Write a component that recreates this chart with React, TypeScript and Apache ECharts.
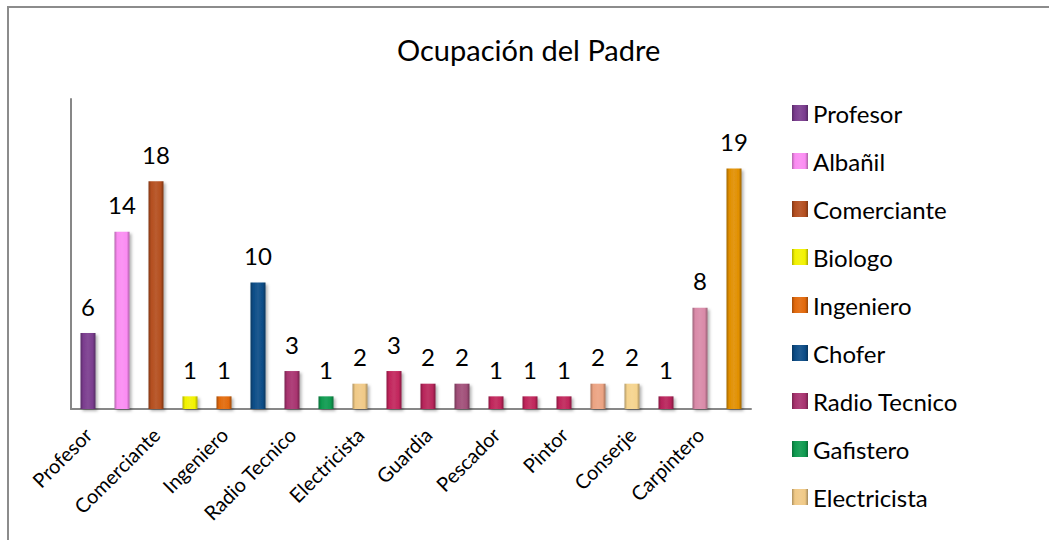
import React, { useEffect, useRef } from "react";
import * as echarts from "echarts";

const categories = [
  "Profesor", "Albañil", "Comerciante", "Biologo", "Ingeniero", "Chofer",
  "Radio Tecnico", "Gafistero", "Electricista", "Mecánico", "Guardia", "Agricultor",
  "Pescador", "Chef", "Pintor", "Policía", "Conserje", "Sastre", "Carpintero", "Otros",
];
const values = [6, 14, 18, 1, 1, 10, 3, 1, 2, 3, 2, 2, 1, 1, 1, 2, 2, 1, 8, 19];
const barColors = [
  "#7a3c8e", "#fb8cf2", "#b44e1f", "#f2f200", "#e2690c", "#0c4c86",
  "#a8336f", "#0e9a4f", "#f0c986", "#c2245c", "#b8255a", "#a04e78",
  "#c0245a", "#c0245a", "#c0245a", "#eba382", "#f5d38d", "#b8235a", "#d98aa8", "#e18f00",
];
const legendNames = categories.slice(0, 9);

function shade(hex: string, f: number): string {
  const n = parseInt(hex.slice(1), 16);
  let r = (n >> 16) & 255, g = (n >> 8) & 255, b = n & 255;
  if (f < 0) {
    r = Math.round(r * (1 + f)); g = Math.round(g * (1 + f)); b = Math.round(b * (1 + f));
  } else {
    r = Math.round(r + (255 - r) * f); g = Math.round(g + (255 - g) * f); b = Math.round(b + (255 - b) * f);
  }
  return `rgb(${r},${g},${b})`;
}

function grad(hex: string) {
  return new echarts.graphic.LinearGradient(0, 0, 1, 0, [
    { offset: 0, color: shade(hex, -0.28) },
    { offset: 0.18, color: hex },
    { offset: 0.5, color: shade(hex, 0.08) },
    { offset: 0.82, color: hex },
    { offset: 1, color: shade(hex, -0.32) },
  ]);
}

const FONT = "Lato, 'Open Sans', sans-serif";

export default function App() {
  const ref = useRef<HTMLDivElement>(null);
  useEffect(() => {
    if (!ref.current) return;
    const chart = echarts.init(ref.current, undefined, { renderer: "svg" });
    const series = categories.map((name, i) => ({
      name,
      type: "bar",
      stack: "all",
      barWidth: 15,
      data: categories.map((_, j) => (j === i ? values[i] : null)),
      itemStyle: {
        color: grad(barColors[i]),
        shadowBlur: 3,
        shadowColor: "rgba(0,0,0,0.3)",
        shadowOffsetX: 2,
        shadowOffsetY: 2,
      },
      label: {
        show: true,
        position: "top",
        distance: 15,
        fontSize: 24,
        color: "#000",
        fontFamily: FONT,
      },
    }));
    chart.setOption({
      animation: false,
      textStyle: { fontFamily: FONT },
      title: {
        text: "Ocupación del Padre",
        left: 392,
        top: 30,
        textStyle: { fontSize: 29, fontWeight: "normal", color: "#000", fontFamily: FONT },
      },
      legend: {
        data: legendNames,
        orient: "vertical",
        left: 787,
        top: 96,
        itemWidth: 16,
        itemHeight: 16,
        itemGap: 24,
        icon: "rect",
        textStyle: { fontSize: 24, color: "#000", fontFamily: FONT, lineHeight: 24 },
      },
      grid: { left: 71, right: 298, top: 99, bottom: 131, containLabel: false },
      xAxis: {
        type: "category",
        data: categories,
        axisLine: { lineStyle: { color: "#878787", width: 2 } },
        axisTick: { show: false },
        axisLabel: {
          interval: 1,
          rotate: 45,
          fontSize: 20,
          color: "#000",
          margin: 22,
          fontFamily: FONT,
        },
      },
      yAxis: {
        type: "value",
        min: 0,
        max: 24.5,
        axisLine: { show: true, lineStyle: { color: "#878787", width: 2 } },
        axisTick: { show: false },
        axisLabel: { show: false },
        splitLine: { show: false },
      },
      graphic: [
        {
          type: "rect",
          shape: { x: 8, y: 7, width: 1200, height: 700 },
          style: { fill: "none", stroke: "#8c8c8c", lineWidth: 2 },
          silent: true,
        },
      ],
      series,
    });
    return () => chart.dispose();
  }, []);
  return (
    <div
      ref={ref}
      style={{ position: "fixed", left: 0, top: 0, width: 1049, height: 540, background: "#fff" }}
    />
  );
}
